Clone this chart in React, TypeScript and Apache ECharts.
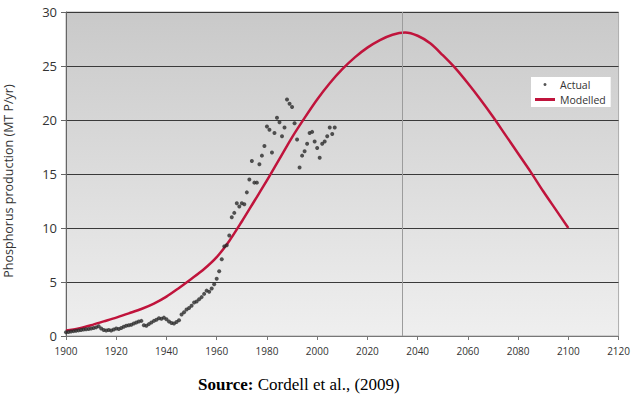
import React, { useEffect, useRef } from "react";
import * as echarts from "echarts";

// Observed annual phosphorus production, 1900 onwards (MT P/yr)
const actualStartYear = 1900;
const actualValues = [
  0.35, 0.38, 0.42, 0.45, 0.48, 0.52, 0.55, 0.6, 0.62, 0.65,
  0.7, 0.75, 0.8, 0.9, 0.7, 0.55, 0.5, 0.55, 0.5, 0.6,
  0.7, 0.65, 0.75, 0.85, 0.95, 1.0, 1.05, 1.15, 1.25, 1.35,
  1.4, 1.0, 0.95, 1.1, 1.25, 1.4, 1.5, 1.65, 1.6, 1.7,
  1.55, 1.35, 1.2, 1.15, 1.3, 1.45, 2.0, 2.2, 2.45, 2.6,
  2.8, 3.1, 3.2, 3.4, 3.6, 3.9, 4.2, 4.1, 4.4, 4.8,
  5.3, 6.0, 7.1, 8.3, 8.4, 9.3, 11.0, 11.4, 12.3, 12.0,
  12.3, 12.2, 13.3, 14.5, 16.2, 14.2, 14.2, 15.9, 16.7, 17.6,
  19.4, 19.1, 17.0, 18.8, 20.2, 19.8, 18.5, 19.3, 21.9, 21.5,
  21.2, 19.7, 18.2, 15.6, 16.7, 17.1, 17.8, 18.8, 18.9, 18.0,
  17.4, 16.5, 17.8, 18.0, 18.5, 19.3, 18.7, 19.3,
];

// Modelled production curve, every five years (peak in the mid-2030s)
const modelYears = [
  1900, 1905, 1910, 1915, 1920, 1925, 1930, 1935, 1940, 1945,
  1950, 1955, 1960, 1965, 1970, 1975, 1980, 1985, 1990, 1995,
  2000, 2005, 2010, 2015, 2020, 2025, 2030, 2035, 2040, 2045,
  2050, 2055, 2060, 2065, 2070, 2075, 2080, 2085, 2090, 2095, 2100,
];
const modelValues = [
  0.5, 0.7, 1.0, 1.35, 1.7, 2.1, 2.5, 3.0, 3.65, 4.45,
  5.3, 6.2, 7.3, 8.8, 10.6, 12.5, 14.4, 16.4, 18.4, 20.2,
  21.9, 23.4, 24.7, 25.8, 26.7, 27.4, 27.9, 28.1, 27.8, 27.1,
  26.0, 24.8, 23.4, 21.9, 20.3, 18.6, 16.9, 15.2, 13.4, 11.7, 10.0,
];

const peakYear = 2034;
const xTicks = { min: 1900, max: 2120, step: 20 };
const yTicks = { min: 0, max: 30, step: 5 };
const yTitle = "Phosphorus production (MT P/yr)";

const labelFont = "'Open Sans', 'DejaVu Sans', sans-serif";
const serifFont = "'Liberation Serif', 'Times New Roman', serif";

export default function App() {
  const ref = useRef<HTMLDivElement>(null);

  useEffect(() => {
    if (!ref.current) return;
    const chart = echarts.init(ref.current, undefined, { renderer: "svg" });

    const actualData = actualValues.map((v, i) => [actualStartYear + i, v]);
    const modelData = modelYears.map((y, i) => [y, modelValues[i]]);

    chart.setOption({
      animation: false,
      backgroundColor: "#ffffff",
      grid: {
        left: 66,
        right: 12,
        top: 12,
        bottom: 58,
        show: true,
        borderWidth: 1,
        borderColor: "#acacac",
        backgroundColor: new echarts.graphic.LinearGradient(0, 0, 0, 1, [
          { offset: 0, color: "#c9c9c9" },
          { offset: 1, color: "#efefef" },
        ]),
      },
      title: {
        left: 198,
        top: 376,
        padding: 0,
        text: "{b|Source:} Cordell et al., (2009)",
        textStyle: {
          fontFamily: serifFont,
          fontSize: 17,
          fontWeight: "normal",
          color: "#000",
          rich: {
            b: {
              fontFamily: serifFont,
              fontSize: 17,
              fontWeight: "bold",
              color: "#000",
            },
          },
        },
      },
      graphic: [
        {
          type: "text",
          x: 8,
          y: 181,
          rotation: Math.PI / 2,
          style: {
            text: yTitle,
            fontFamily: labelFont,
            fontSize: 12.5,
            fill: "#333",
            align: "center",
            verticalAlign: "middle",
          },
        },
      ],
      legend: {
        orient: "vertical",
        left: 531,
        top: 77,
        backgroundColor: "#ffffff",
        padding: [2, 5, 2, 4],
        itemGap: 4,
        itemWidth: 20,
        itemHeight: 3,
        textStyle: { fontFamily: labelFont, fontSize: 10.5, color: "#333" },
        data: [
          { name: "Actual", icon: "circle" },
          { name: "Modelled", icon: "rect" },
        ],
      },
      xAxis: {
        type: "value",
        min: xTicks.min,
        max: xTicks.max,
        interval: xTicks.step,
        axisLine: { show: true, lineStyle: { color: "#777", width: 1 } },
        axisTick: { show: true, length: 4, lineStyle: { color: "#777" } },
        splitLine: { show: false },
        axisLabel: {
          fontFamily: labelFont,
          fontSize: 10,
          color: "#333",
          margin: 10,
          formatter: (v: number) => String(v),
        },
      },
      yAxis: {
        type: "value",
        min: yTicks.min,
        max: yTicks.max,
        interval: yTicks.step,
        axisLine: { show: true, lineStyle: { color: "#666", width: 1 } },
        axisTick: { show: true, length: 5, lineStyle: { color: "#666" } },
        splitLine: { show: true, lineStyle: { color: "#3a3a3a", width: 1 } },
        axisLabel: {
          fontFamily: labelFont,
          fontSize: 13,
          color: "#333",
          margin: 9,
        },
      },
      series: [
        {
          name: "Modelled",
          type: "line",
          data: modelData,
          smooth: 0.3,
          showSymbol: false,
          symbol: "none",
          z: 3,
          itemStyle: { color: "#c0143c" },
          lineStyle: { color: "#c0143c", width: 2.5 },
          markLine: {
            silent: true,
            symbol: "none",
            label: { show: false },
            lineStyle: { color: "#9c9c9c", width: 1, type: "solid" },
            data: [{ xAxis: peakYear }],
          },
        },
        {
          name: "Actual",
          type: "scatter",
          data: actualData,
          symbol: "circle",
          symbolSize: 4,
          z: 4,
          itemStyle: { color: "#2a2a2a" },
        },
      ],
    });

    return () => chart.dispose();
  }, []);

  return (
    <div
      ref={ref}
      style={{ position: "fixed", left: 0, top: 0, width: 633, height: 394 }}
    />
  );
}
